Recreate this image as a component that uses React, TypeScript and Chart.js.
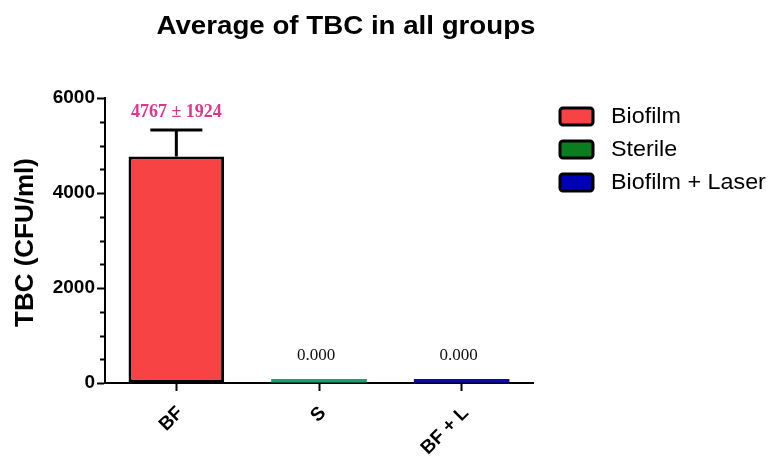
import React, { useEffect, useRef } from "react";
import { Chart, registerables } from "chart.js";
Chart.register(...registerables);

const chartTitle = "Average of TBC in all groups";
const yAxisTitle = "TBC (CFU/ml)";
const categories = ["BF", "S", "BF + L"];
const groupNames = ["Biofilm", "Sterile", "Biofilm + Laser"];
const meanValues = [4767, 0, 0];
const errorValues = [560, 0, 0];
const valueLabels = ["4767 ± 1924", "0.000", "0.000"];
const barColors = ["#f74343", "#1e9e6e", "#0a0ab4"];
const legendColors = ["#f74343", "#0b7d1f", "#0000b4"];
const yMajorTicks = [0, 2000, 4000, 6000];
const yMinorStep = 500;
const yMax = 6000;

const FONT = "'Liberation Sans', Arial, sans-serif";
const SERIF = "'Liberation Serif', 'Times New Roman', serif";

function stretchedText(ctx: any, text: string, x: number, y: number, sx: number) {
  ctx.save();
  ctx.translate(x, y);
  ctx.scale(sx, 1);
  ctx.fillText(text, 0, 0);
  ctx.restore();
}

const decorPlugin = {
  id: "decor",
  afterDatasetsDraw(chart: any) {
    const ctx = chart.ctx;
    const ys = chart.scales.y;
    const area = chart.chartArea;
    const meta = chart.getDatasetMeta(0);
    ctx.save();
    // minor ticks
    ctx.strokeStyle = "#000";
    ctx.lineWidth = 2;
    for (let v = 0; v <= yMax; v += yMinorStep) {
      if (yMajorTicks.includes(v)) continue;
      const py = Math.round(ys.getPixelForValue(v)) + 0.5;
      ctx.beginPath();
      ctx.moveTo(area.left - 5, py);
      ctx.lineTo(area.left, py);
      ctx.stroke();
    }
    // error bars
    ctx.lineWidth = 3;
    meanValues.forEach((m, i) => {
      const err = errorValues[i];
      const bar = meta.data[i];
      if (!bar) return;
      const px = bar.x;
      if (err > 0) {
        const top = ys.getPixelForValue(m + err);
        const base = ys.getPixelForValue(m);
        ctx.beginPath();
        ctx.moveTo(px, base);
        ctx.lineTo(px, top);
        ctx.moveTo(px - 26, top);
        ctx.lineTo(px + 26, top);
        ctx.stroke();
      }
      // value labels
      const ly = ys.getPixelForValue(m + err) - (err > 0 ? 18 : 27);
      ctx.textAlign = "center";
      ctx.textBaseline = "middle";
      if (err > 0) {
        ctx.fillStyle = "#e0358e";
        ctx.font = `bold 18px ${SERIF}`;
        ctx.fillText(valueLabels[i], px, ly);
      } else {
        ctx.fillStyle = "#111";
        ctx.font = `17px ${SERIF}`;
        ctx.fillText(valueLabels[i], px - 3, ly);
      }
    });
    ctx.restore();
  },
  afterDraw(chart: any) {
    const ctx = chart.ctx;
    const area = chart.chartArea;
    ctx.save();
    ctx.fillStyle = "#000";
    ctx.textAlign = "center";
    ctx.textBaseline = "middle";
    ctx.font = `bold 26px ${FONT}`;
    stretchedText(ctx, chartTitle, 346, 27, 1.065);
    // y title
    ctx.save();
    ctx.translate(26, (area.top + area.bottom) / 2 + 2);
    ctx.rotate(-Math.PI / 2);
    ctx.font = `bold 26px ${FONT}`;
    ctx.fillText(yAxisTitle, 0, 0);
    ctx.restore();
    // legend
    groupNames.forEach((name, i) => {
      const bx = 560;
      const by = 108 + 33 * i;
      ctx.beginPath();
      if (ctx.roundRect) ctx.roundRect(bx, by, 33, 17, 3);
      else ctx.rect(bx, by, 33, 17);
      ctx.fillStyle = legendColors[i];
      ctx.fill();
      ctx.lineWidth = 3;
      ctx.strokeStyle = "#000";
      ctx.stroke();
      ctx.fillStyle = "#000";
      ctx.textAlign = "left";
      ctx.font = `22px ${FONT}`;
      stretchedText(ctx, name, 611, by + 9, 1.06);
    });
    ctx.restore();
  },
};

export default function App() {
  const ref = useRef<HTMLCanvasElement | null>(null);
  useEffect(() => {
    if (!ref.current) return;
    const chart = new Chart(ref.current, {
      type: "bar",
      data: {
        labels: categories,
        datasets: [
          {
            label: "TBC",
            data: meanValues,
            backgroundColor: barColors,
            borderColor: "#000",
            borderWidth: [3, 0, 0],
            borderSkipped: false,
            minBarLength: 4,
            categoryPercentage: 1,
            barPercentage: 0.67,
          } as any,
        ],
      },
      options: {
        animation: false,
        responsive: true,
        maintainAspectRatio: false,
        layout: { padding: { left: 0, top: 98, right: 235, bottom: 0 } },
        plugins: {
          legend: { display: false },
          title: { display: false },
          tooltip: { enabled: false },
        },
        scales: {
          x: {
            offset: true,
            afterFit: (s: any) => {
              s.height = 75;
            },
            grid: {
              offset: false,
              drawOnChartArea: false,
              drawTicks: true,
              tickLength: 8,
              tickWidth: 2,
              tickColor: "#000",
            },
            border: { display: true, color: "#000", width: 2 },
            ticks: {
              color: "#000",
              font: { family: FONT, size: 19, weight: "bold" },
              maxRotation: 45,
              minRotation: 45,
              padding: 11,
              labelOffset: 4,
            },
          },
          y: {
            min: 0,
            max: yMax,
            afterFit: (s: any) => {
              s.width = 105;
            },
            afterBuildTicks: (s: any) => {
              s.ticks = yMajorTicks.map((v) => ({ value: v }));
            },
            grid: {
              drawOnChartArea: false,
              drawTicks: true,
              tickLength: 8,
              tickWidth: 2,
              tickColor: "#000",
            },
            border: { display: true, color: "#000", width: 2 },
            ticks: {
              color: "#000",
              font: { family: FONT, size: 19, weight: "bold" },
              padding: 2,
              callback: (v: any) => String(v),
            },
          },
        },
      },
      plugins: [decorPlugin],
    });
    return () => chart.destroy();
  }, []);
  return (
    <div style={{ position: "fixed", left: 0, top: 0, width: 768, height: 458, background: "#fff" }}>
      <canvas ref={ref} />
    </div>
  );
}
